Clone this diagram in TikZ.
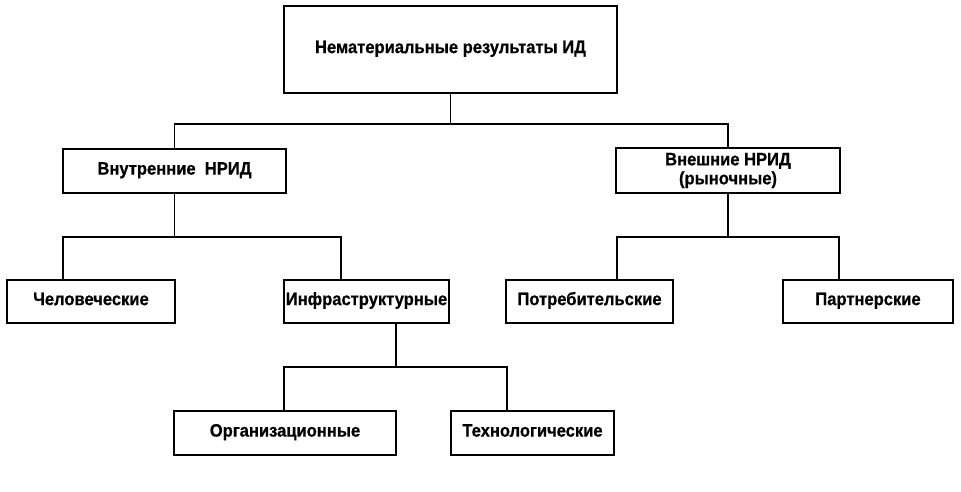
\documentclass[tikz,border=0pt]{standalone}
\usepackage{fontspec}
\setmainfont{Liberation Sans}
\newfontfamily\boxfont{Liberation Sans}[FakeStretch=0.92, FakeBold=0.6, BoldFont={Liberation Sans Bold}, BoldFeatures={FakeStretch=0.92, FakeBold=0.6}]
\begin{document}
\begin{tikzpicture}[x=1pt,y=-1pt,
  box/.style={draw, line width=1.3pt, inner sep=0pt, align=center,
    font=\boxfont\fontsize{18}{19}\selectfont\bfseries},
  oneline/.style={box, text height=0.72em, text depth=0em},
  conn/.style={line width=1.3pt}]
\useasboundingbox[fill=white] (0,0) rectangle (961,491);
\node[oneline, minimum width=333pt, minimum height=87pt] (top) at (450.5,49.5) {Нематериальные результаты ИД};
\node[oneline, minimum width=223pt, minimum height=44pt] (int) at (174.5,171) {Внутренние\ \ НРИД};
\node[box, minimum width=224pt, minimum height=45pt] (ext) at (728,170.5) {Внешние НРИД\\(рыночные)};
\node[oneline, minimum width=168pt, minimum height=43pt] (chel) at (91,301.5) {Человеческие};
\node[oneline, minimum width=165pt, minimum height=43pt] (infra) at (366.5,301.5) {Инфраструктурные};
\node[oneline, minimum width=167pt, minimum height=43pt] (potr) at (589.5,301.5) {Потребительские};
\node[oneline, minimum width=170pt, minimum height=43pt] (part) at (868,301.5) {Партнерские};
\node[oneline, minimum width=222pt, minimum height=44pt] (org) at (285,433) {Организационные};
\node[oneline, minimum width=163pt, minimum height=44pt] (tech) at (532.5,433) {Технологические};
% level 1 -> 2
\draw[conn] (top.south) -- (top.south |- 0,124);
\draw[conn] (int.north) -- (int.north |- 0,124) -- (ext.north |- 0,124) -- (ext.north);
% int -> children
\draw[conn] (int.south) -- (int.south |- 0,237);
\draw[conn] (chel.north -| 63,0) -- (63,237) -- (341,237) -- (infra.north -| 341,0);
% ext -> children
\draw[conn] (ext.south) -- (ext.south |- 0,237);
\draw[conn] (potr.north -| 617,0) -- (617,237) -- (839,237) -- (part.north -| 839,0);
% infra -> children
\draw[conn] (infra.south -| 396,0) -- (396,367);
\draw[conn] (org.north -| 284,0) -- (284,367) -- (507,367) -- (tech.north -| 507,0);
\end{tikzpicture}
\end{document}
